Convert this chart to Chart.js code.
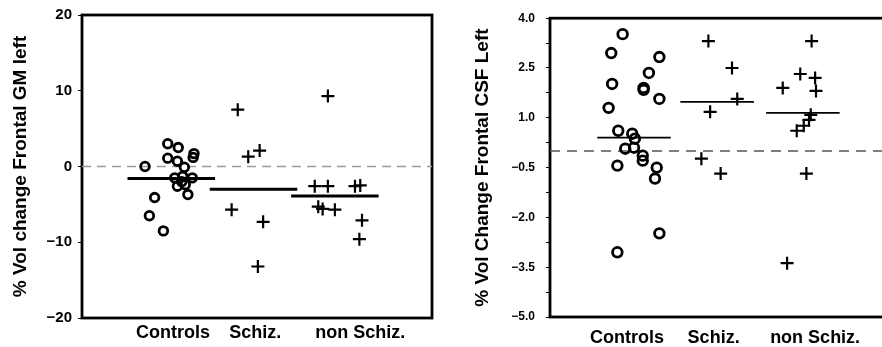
<!DOCTYPE html>
<html>
<head>
<meta charset="utf-8">
<script src="https://cdn.jsdelivr.net/npm/chart.js@4.4.1/dist/chart.umd.min.js"></script>
<style>
html, body { margin: 0; padding: 0; background: #fff; overflow: hidden; width: 882px; height: 347px; }
#left { position: absolute; left: 0; top: 0; }
#right { position: absolute; left: 441px; top: 0; }
</style>
</head>
<body>
<canvas id="left" width="441" height="347"></canvas>
<canvas id="right" width="470" height="347"></canvas>
<script>
var groups = ['Controls', 'Schiz.', 'non Schiz.'];

// left panel - % vol change frontal GM left
var gmCtrlX = [0.72, 0.98, 1.10, 0.98, 1.09, 1.28, 1.27, 1.17, 1.06, 1.15, 1.26, 1.09, 1.18, 1.14, 1.21, 0.83, 0.77, 0.93];
var gmCtrlY = [0, 3.0, 2.5, 1.1, 0.7, 1.7, 1.2, -0.1, -1.5, -1.3, -1.5, -2.6, -2.4, -2.0, -3.7, -4.1, -6.5, -8.5];
var gmSchX = [1.78, 1.90, 2.03, 1.71, 2.07, 2.01];
var gmSchY = [7.5, 1.3, 2.1, -5.7, -7.3, -13.2];
var gmNonX = [2.81, 2.66, 2.81, 3.12, 3.18, 2.70, 2.75, 2.89, 3.20, 3.17];
var gmNonY = [9.3, -2.6, -2.6, -2.6, -2.5, -5.3, -5.6, -5.7, -7.1, -9.6];
var gmMedian = [-1.6, -3.0, -3.9];
var gmMedX = [1.02, 1.96, 2.89];
var gmLabelX = [1.04, 1.98, 3.18];

// right panel - % vol change frontal CSF left
var csfCtrlX = [0.83, 0.70, 1.25, 1.13, 0.71, 1.07, 1.07, 1.25, 0.67, 0.78, 0.94, 0.97, 0.86, 0.96, 1.06, 1.06, 0.77, 1.22, 1.20, 1.25, 0.77];
var csfCtrlY = [3.52, 2.95, 2.83, 2.35, 2.02, 1.90, 1.84, 1.57, 1.30, 0.61, 0.52, 0.37, 0.07, 0.10, -0.14, -0.29, -0.44, -0.50, -0.83, -2.48, -3.05];
var csfSchX = [1.81, 2.08, 2.14, 1.83, 1.73, 1.95];
var csfSchY = [3.31, 2.50, 1.57, 1.18, -0.23, -0.68];
var csfNonX = [2.99, 2.86, 3.03, 2.66, 3.04, 2.98, 2.96, 2.90, 2.82, 2.93, 2.71];
var csfNonY = [3.31, 2.32, 2.20, 1.90, 1.81, 1.09, 0.94, 0.76, 0.61, -0.68, -3.38];
var csfMedian = [0.40, 1.48, 1.15];
var csfMedX = [0.96, 1.91, 2.89];
var csfLabelX = [0.88, 1.87, 3.03];

var zeroLine = 0;

function pts(xs, ys) {
    return xs.map(function (x, i) { return { x: x, y: ys[i] }; });
}

// box round the plot area
var frame = {
    id: 'frame',
    beforeDatasetsDraw: function (chart) {
        var a = chart.chartArea, c = chart.ctx;
        c.save();
        c.strokeStyle = '#000';
        c.lineWidth = 2.8;
        c.strokeRect(a.left, a.top, a.right - a.left, a.bottom - a.top);
        c.restore();
    }
};

function fmt(v) {
    return v < 0 ? '\u2212' + Math.abs(v) : '' + v;
}

function makeChart(id, s) {
    var datasets = [
        { data: pts(s.ctrlX, s.ctrlY), pointStyle: 'circle', pointRadius: s.circR, borderWidth: 2.8,
          borderColor: '#000', backgroundColor: 'rgba(255,255,255,0)' },
        { data: pts(s.schX, s.schY), pointStyle: 'cross', pointRadius: 6.5, borderWidth: 2.2, borderColor: '#000' },
        { data: pts(s.nonX, s.nonY), pointStyle: 'cross', pointRadius: 6.5, borderWidth: 2.2, borderColor: '#000' }
    ];
    s.medX.forEach(function (c, i) {
        datasets.push({
            data: [{ x: c - s.half, y: s.med[i] }, { x: c + s.half, y: s.med[i] }],
            showLine: true, pointRadius: 0, borderColor: '#000', borderWidth: s.medW
        });
    });
    datasets.push({
        data: [{ x: 0, y: zeroLine }, { x: 4, y: zeroLine }],
        showLine: true, pointRadius: 0, borderColor: s.dashCol, borderWidth: 1.5, borderDash: s.dash
    });

    return new Chart(document.getElementById(id), {
        type: 'scatter',
        data: { datasets: datasets },
        plugins: [frame],
        options: {
            responsive: false,
            animation: false,
            events: [],
            layout: { padding: { left: 0, right: s.padRight, top: s.padTop, bottom: 0 } },
            plugins: { legend: { display: false }, tooltip: { enabled: false } },
            scales: {
                x: {
                    type: 'linear', min: 0, max: 4,
                    afterBuildTicks: function (axis) {
                        axis.ticks = s.labelX.map(function (v) { return { value: v }; });
                    },
                    afterFit: function (axis) { axis.height = s.xHeight; },
                    grid: { display: false, drawTicks: false },
                    border: { display: false },
                    ticks: {
                        autoSkip: false, maxRotation: 0, padding: s.xPad, color: '#000',
                        font: { family: 'Liberation Sans', size: 18, weight: 'bold' },
                        callback: function (v, i) { return groups[i]; }
                    }
                },
                y: {
                    min: s.yMin, max: s.yMax,
                    afterFit: function (axis) { axis.width = s.yWidth; },
                    grid: { display: true, drawOnChartArea: false, drawTicks: true, tickLength: 4, color: '#000', lineWidth: 1 },
                    border: { display: false },
                    ticks: {
                        stepSize: s.step, padding: s.yPad, color: '#000',
                        font: { family: 'Liberation Sans', size: s.yFont, weight: 'bold' },
                        callback: s.tickFmt
                    },
                    title: {
                        display: true, text: s.title, color: '#000',
                        font: { family: 'Liberation Sans', size: 19, weight: 'bold' },
                        padding: { top: s.titlePad, bottom: 0 }
                    }
                }
            }
        }
    });
}

makeChart('left', {
    ctrlX: gmCtrlX, ctrlY: gmCtrlY, schX: gmSchX, schY: gmSchY, nonX: gmNonX, nonY: gmNonY,
    med: gmMedian, medX: gmMedX, labelX: gmLabelX, half: 0.5, medW: 3, circR: 4.3,
    dashCol: '#9a9a9a', dash: [9, 6],
    padRight: 9, padTop: 15, xHeight: 29, xPad: 4, yWidth: 82, yPad: 6, yFont: 15,
    yMin: -20, yMax: 20, step: 10, titlePad: 9,
    title: '% Vol change Frontal GM left',
    tickFmt: function (v) { return fmt(v); }
});

makeChart('right', {
    ctrlX: csfCtrlX, ctrlY: csfCtrlY, schX: csfSchX, schY: csfSchY, nonX: csfNonX, nonY: csfNonY,
    med: csfMedian, medX: csfMedX, labelX: csfLabelX, half: 0.42, medW: 1.8, circR: 4.8,
    dashCol: '#555', dash: [10, 7],
    padRight: 11, padTop: 16, xHeight: 30, xPad: 10, yWidth: 109, yPad: 11, yFont: 12,
    yMin: -5, yMax: 4, step: 0.75, titlePad: 30,
    title: '% Vol Change Frontal CSF Left',
    tickFmt: function (v, i) {
        if (i % 2 !== 0) return '';
        var t = Math.abs(v).toFixed(1);
        return v < -0.001 ? '\u2212' + t : t;
    }
});
</script>
</body>
</html>
